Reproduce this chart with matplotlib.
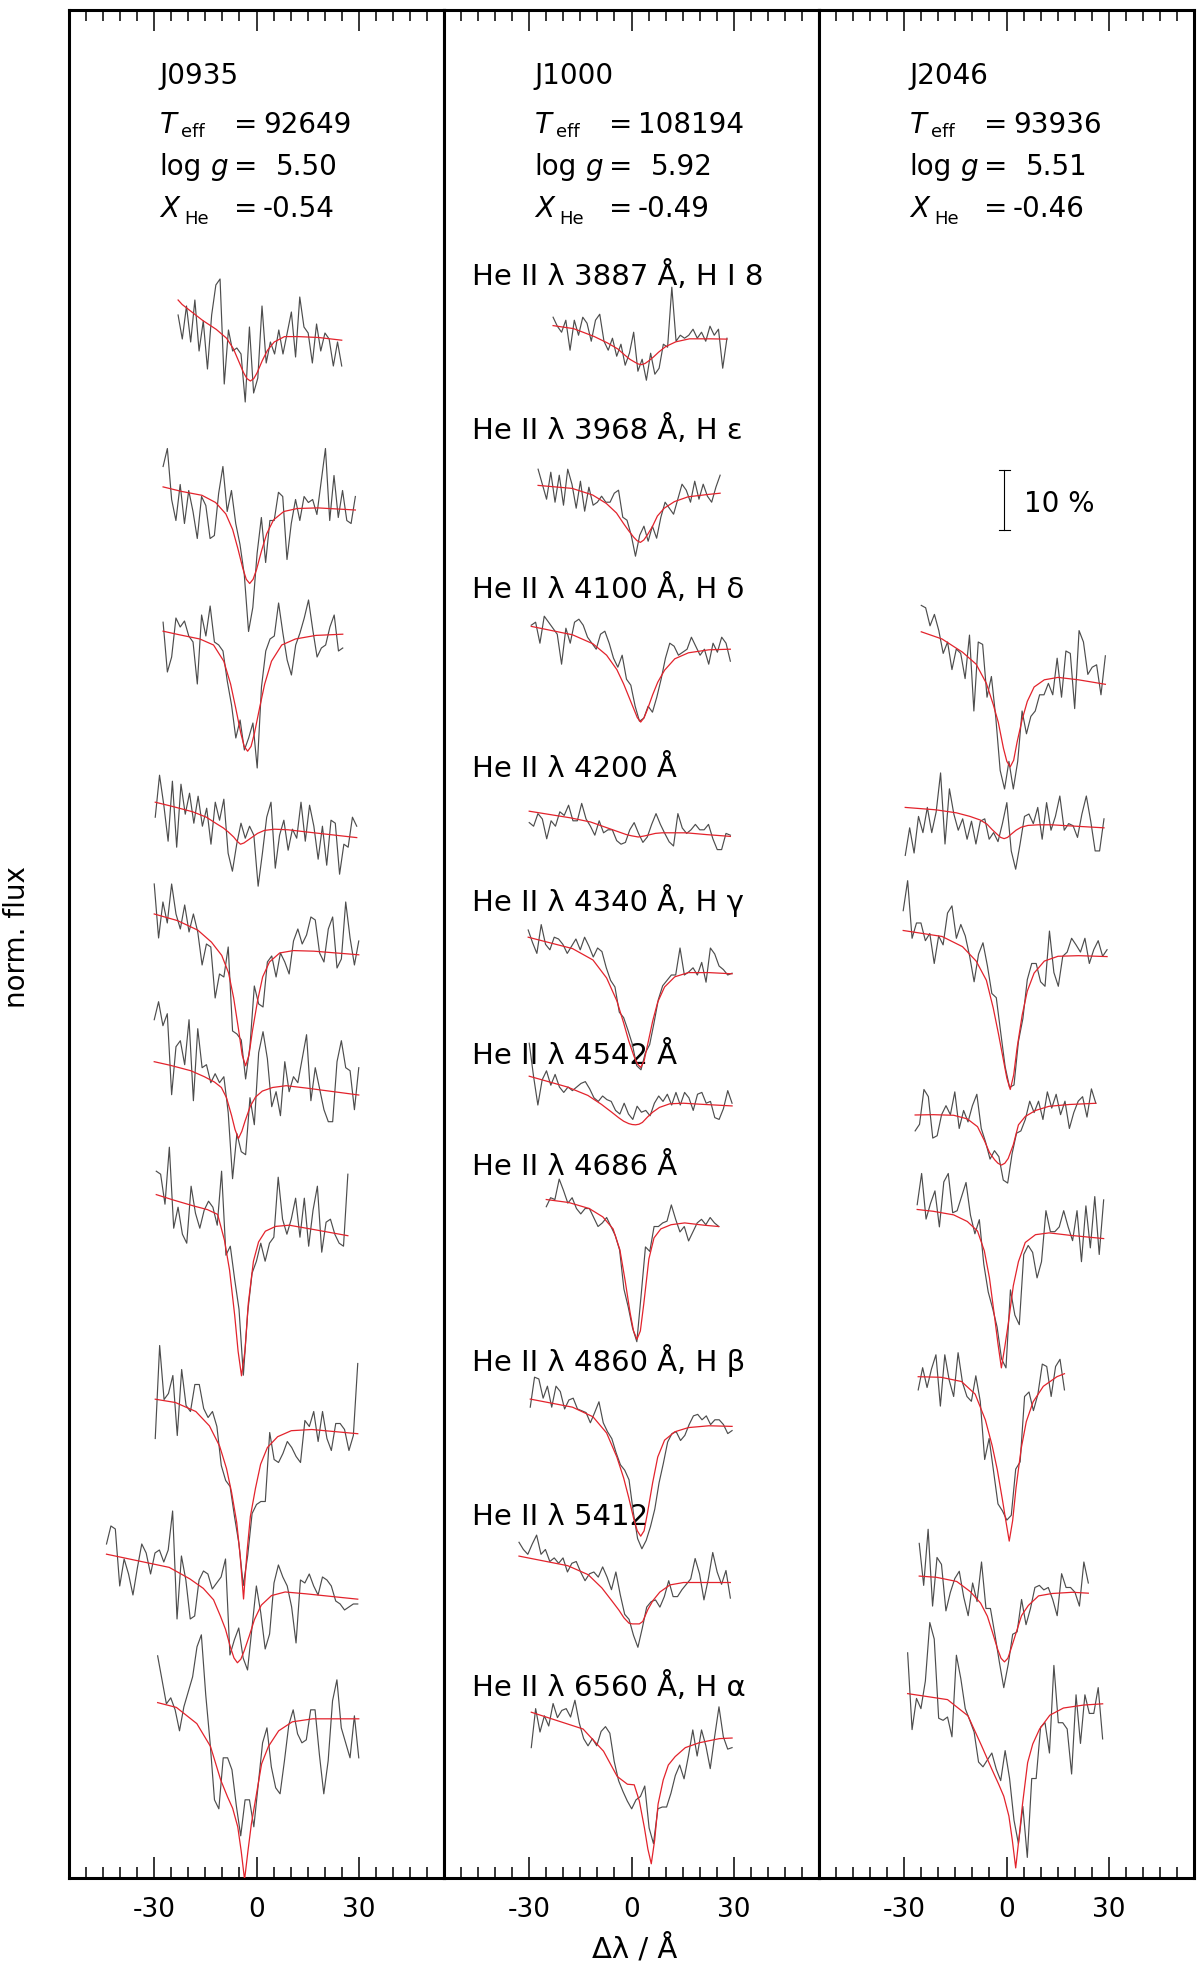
import numpy as np
import matplotlib
matplotlib.use("Agg")
import matplotlib.pyplot as plt
from matplotlib.ticker import FixedLocator, MultipleLocator
import matplotlib.transforms as mtransforms

plt.rcParams['font.family'] = ['DejaVu Sans']
plt.rcParams['axes.unicode_minus'] = False

# ---------------- chart text ----------------
stars = ["J0935", "J1000", "J2046"]
teff_vals = ["92649", "108194", "93936"]
logg_vals = ["5.50", "5.92", "5.51"]
xhe_vals = ["-0.54", "-0.49", "-0.46"]
x_tick_values = [-30, 0, 30]
x_tick_labels = ["-30", "0", "30"]
line_labels = ["He II \u03bb 3887 \u00c5, H I 8", "He II \u03bb 3968 \u00c5, H \u03b5",
               "He II \u03bb 4100 \u00c5, H \u03b4", "He II \u03bb 4200 \u00c5",
               "He II \u03bb 4340 \u00c5, H \u03b3", "He II \u03bb 4542 \u00c5",
               "He II \u03bb 4686 \u00c5", "He II \u03bb 4860 \u00c5, H \u03b2",
               "He II \u03bb 5412", "He II \u03bb 6560 \u00c5, H \u03b1"]
label_baselines = [2.6547, 2.399, 2.134, 1.8357, 1.6123, 1.3573, 1.1723, 0.8457, 0.589, 0.304]

# knot offsets (Angstrom, relative to line centre) for the model curves
REL = [-20, -14, -10, -7, -5, -3.5, -2, -1, 0, 1, 2, 3.5, 5, 7, 10, 14, 20]

# ---------------- J0935 ----------------
j0935_lines = ["3887", "3968", "4100", "4200", "4340", "4542", "4686", "4860", "5412", "6560"]
j0935_level = [2.575, 2.2875, 2.075, 1.748, 1.5467, 1.3205, 1.088, 0.7475, 0.4767, 0.2653]
j0935_center = [-1.8, -2.0, -2.6, -4.7, -3.2, -5.3, -4.4, -3.8, -5.6, -3.5]
j0935_start = [-23, -27.4, -27.4, -29.7, -30, -30, -29.4, -29.7, -44, -29]
j0935_end = [25, 29, 25.3, 29.4, 30, 30, 26.8, 29.7, 29.7, 30]

obs_j0935_3887 = [3.0, -1.0, 4.5, -1.5, 5.5, -3.0, 2.0, -6.0, 3.0, 8.0, 9.0, -8.5, 0.5, -3.0, -2.5, -3.5, -11.5, 1.0, -10.0, -7.5, 4.5, -5.0, -1.5, -3.5, 0.5, -3.5, 0.0, 3.5, -4.0, 6.0, 1.0, 0.0, -5.0, 1.5, -3.0, 0.0, -1.0, -5.5, -1.5, -5.5]
obs_j0935_3968 = [6.5, 9.5, 1.0, -2.5, 3.5, -3.0, 2.5, -1.0, -5.5, 1.5, 0.0, -5.5, -5.0, 2.0, 6.5, -1.0, 2.5, -3.0, -6.5, -11.5, -21.0, -17.0, -8.0, -2.0, -9.5, -2.5, -2.5, 2.2, 1.5, -9.0, -3.0, 1.0, -2.5, 1.5, 0.5, 1.0, -1.5, 4.0, 9.5, -2.5, 5.0, -2.0, 2.5, -2.5, -3.0, 1.5]
obs_j0935_4100 = [1.8, -6.5, -4.0, 2.5, 1.0, 2.0, -0.5, -1.5, -8.5, 3.0, -0.5, 4.5, -1.5, -2.0, -3.0, -8.0, -12.0, -17.5, -14.5, -19.5, -17.5, -15.0, -22.5, -9.0, -3.0, -1.0, -0.5, 5.0, 0.0, -4.5, -7.0, -2.0, 0.0, 2.5, 5.5, 0.5, -4.0, -2.5, -2.0, 1.0, 3.0, -3.0, -2.5]
obs_j0935_4200 = [2.0, 9.0, 4.0, -2.0, 8.0, -3.0, 7.5, 2.5, 6.0, 1.0, 5.5, 0.5, 3.5, -2.5, 4.5, 1.5, 5.0, -4.0, -7.0, -2.5, 1.0, -1.5, 0.5, -1.0, -9.5, -4.0, 2.0, 4.5, -6.5, -1.0, 1.5, -3.5, 0.0, -1.5, 4.5, -2.0, 4.0, 0.5, -5.0, 0.5, -6.0, 1.5, 1.0, -7.5, -2.5, -3.0, 2.0, 0.5]
obs_j0935_4340 = [11.0, 2.0, 8.0, 4.5, 11.0, 6.0, 3.5, 7.5, 3.0, 6.0, 3.0, -2.5, 1.0, 0.5, -8.0, -4.0, -4.5, 0.5, -13.5, -14.0, -15.0, -21.5, -16.0, -6.0, -9.0, -9.5, -2.0, -1.0, -4.5, -0.5, -2.0, -4.0, 1.5, 3.5, 1.0, 2.5, 5.5, 5.0, -0.5, -2.0, 3.5, 5.5, -3.0, -1.5, 8.0, 2.0, -2.5, 1.5]
obs_j0935_4542 = [11.0, 14.0, 10.0, 12.0, -1.5, 6.5, 7.5, 3.5, 11.0, -2.5, 9.5, 3.0, 3.5, 0.5, 2.0, 0.5, 1.5, -4.5, -15.5, -8.0, -11.0, -11.5, -2.0, -6.5, 5.5, 9.0, 4.5, -3.5, -1.0, -5.0, 4.0, -1.0, 1.5, 0.5, 4.5, 8.5, -2.5, 3.0, -0.5, -4.0, -6.0, -6.0, 4.0, 7.5, 3.0, 2.5, -4.0, 3.0]
obs_j0935_4686 = [9.0, 8.5, 3.5, 13.0, -0.5, 3.0, -1.5, -3.0, 6.5, 2.0, -0.5, 2.5, 4.0, 3.0, 0.0, 9.0, -5.0, -3.5, -9.0, -14.0, -25.0, -14.5, -8.0, -6.0, -3.0, -6.0, -3.0, -2.0, 8.0, 1.0, -1.5, 1.0, 4.5, -2.0, 4.5, -3.5, 2.5, 6.5, -4.5, 0.5, 1.0, -1.5, -3.0, -3.5, 8.5]
obs_j0935_4860 = [-1.5, 14.0, 5.0, 6.0, 9.0, -1.0, 10.0, 4.0, 3.0, 7.5, 7.5, 3.5, 2.0, 3.0, 0.5, -6.0, -8.5, -9.5, -14.5, -19.0, -26.0, -21.0, -14.0, -12.5, -12.0, -12.0, -0.5, -5.0, -5.5, -4.0, -2.0, -3.0, -4.5, -5.5, 1.5, 0.5, 3.0, -2.0, 3.0, -1.5, -3.5, 1.0, 1.0, 0.0, -3.5, -1.0, 11.0]
obs_j0935_5412 = [8.0, 11.0, 10.5, 1.0, 5.5, 3.0, -0.5, 4.0, 8.0, 6.5, 3.0, 6.5, 7.0, 5.0, 7.0, 13.5, -4.5, 6.0, 2.0, -4.5, -4.0, 2.0, 3.5, 3.0, 0.5, 1.5, 2.5, 5.5, -10.5, -8.0, -6.0, -11.0, -13.0, -6.0, 1.0, -3.5, -9.5, -7.0, 1.5, 4.5, 2.5, 1.0, -2.5, -8.5, 2.0, 1.5, 3.0, 1.0, -0.5, 2.5, 2.0, 1.0, -1.5, -2.0, -3.0, -2.5, -2.0, -2.0]
obs_j0935_6560 = [10.5, 6.5, 2.5, 3.5, 1.5, -2.0, 2.0, 4.5, 7.0, 12.0, 14.0, 4.0, -4.0, -13.5, -15.0, -6.5, -6.5, -8.5, -14.5, -19.5, -13.5, -13.5, -18.0, -11.0, -4.0, -1.5, -8.0, -11.5, -12.5, -7.0, -1.0, 1.5, -2.5, -4.0, -3.5, 1.5, 1.5, -6.0, -12.5, -7.0, 3.0, 6.5, -1.5, -4.0, -6.5, 0.5, -6.5]

fit_j0935_3887 = [5.5, 4.75, 2.1, 0.6, -0.86, -2.6, -4.6, -6.6, -7.6, -8.0, -7.6, -6.6, -4.6, -2.9, -1.5, -0.6, -0.6, -0.75, -1.2]
fit_j0935_3968 = [3.1, 2.35, 1.7, 0.5, -1.4, -4.0, -7.1, -10.5, -12.3, -13.0, -12.3, -10.7, -7.5, -4.7, -2.4, -1.0, -0.5, -0.4, -0.75]
fit_j0935_4100 = [0.3, -0.3, -1.0, -2.0, -4.7, -8.5, -12.5, -16.7, -18.9, -19.7, -18.9, -16.7, -12.5, -8.5, -4.7, -2.0, -1.0, -0.4, -0.2]
fit_j0935_4200 = [4.5, 3.8, 2.9, 2.0, 0.9, 0.2, -0.5, -1.3, -2.0, -2.5, -2.3, -1.9, -1.3, -0.7, -0.2, 0.0, -0.1, -0.5, -1.4]
fit_j0935_4340 = [6.0, 4.9, 3.3, 1.3, -0.9, -3.8, -8.0, -13.5, -17.5, -19.3, -17.5, -13.5, -8.5, -4.5, -2.0, -0.5, -0.1, -0.2, -0.8]
fit_j0935_4542 = [4.0, 3.4, 2.5, 1.5, 0.6, -0.3, -2.0, -5.0, -7.3, -8.8, -7.6, -5.8, -3.4, -1.9, -0.9, -0.3, 0.0, -0.4, -1.55]
fit_j0935_4686 = [5.1, 4.2, 3.2, 2.6, 1.8, -2.5, -7.5, -15.0, -21.0, -25.1, -21.0, -13.0, -6.0, -2.8, -1.0, -0.2, 0.0, -0.6, -1.75]
fit_j0935_4860 = [5.05, 4.5, 3.0, 0.6, -2.8, -6.5, -10.5, -15.5, -21.0, -28.25, -20.5, -14.5, -9.8, -5.8, -3.0, -1.2, -0.2, 0.0, -0.7]
fit_j0935_5412 = [6.3, 4.1, 2.2, 0.6, -1.3, -4.0, -6.2, -9.3, -11.0, -11.8, -11.2, -9.8, -7.3, -4.6, -2.2, -0.6, 0.0, -0.3, -1.2]
fit_j0935_6560 = [2.7, 1.9, -0.8, -4.6, -10.2, -13.0, -14.9, -18.0, -22.0, -26.8, -22.0, -17.5, -12.5, -7.5, -4.6, -2.0, -0.5, 0.0, 0.0]

# ---------------- J1000 ----------------
j1000_lines = ["3887", "3968", "4100", "4200", "4340", "4542", "4686", "4860", "5412", "6560"]
j1000_level = [2.5663, 2.308, 2.048, 1.742, 1.51, 1.2913, 1.0918, 0.7537, 0.4925, 0.2333]
j1000_center = [3.0, 2.6, 2.7, 2.0, 2.7, 1.2, 1.6, 2.7, 1.3, 5.8]
j1000_start = [-23, -27.4, -29.4, -30, -30.3, -30, -25, -29.7, -33, -29.4]
j1000_end = [28, 26, 29, 29, 29.5, 29.5, 25.6, 29.5, 29, 29.5]

obs_j1000_3887 = [3.5, 2.0, 1.0, 3.0, -2.0, 3.0, 0.5, 3.5, 2.5, -0.5, 3.0, 4.0, -0.5, -2.0, 0.0, -3.0, -1.0, -4.5, -2.5, 1.0, -5.5, -3.5, -7.0, -2.5, -6.0, -5.0, -1.0, -1.5, 8.5, -0.5, 0.5, 0.0, 0.5, 1.5, 0.0, 1.0, -0.5, 2.0, 0.5, 1.5, -5.0, 0.0]
obs_j1000_3968 = [4.0, 1.5, -1.0, 3.5, -1.5, 3.0, -2.0, 4.0, 1.5, -2.5, 2.0, -3.0, 1.0, -2.0, -1.5, -0.5, -1.5, -1.5, 0.0, 0.5, -4.0, -4.5, -7.0, -10.5, -7.0, -5.5, -8.0, -5.5, -7.5, -4.0, -1.5, -2.5, -3.5, -1.0, 1.5, 0.5, -1.5, 2.0, -1.0, 1.5, -0.5, -1.5, 1.0, 3.0]
obs_j1000_4100 = [4.0, 4.5, 1.0, 5.5, 4.5, 3.5, 2.5, -2.5, 3.5, 1.0, 4.5, 5.0, 4.0, 2.0, 1.0, 0.0, 2.5, 3.0, 1.0, -1.5, -3.0, -1.0, -5.0, -6.0, -9.5, -12.0, -11.5, -9.5, -10.5, -8.0, -5.0, -1.5, 1.0, 0.5, -1.0, -0.5, 0.0, 2.0, 0.5, -1.0, 0.0, -2.5, 1.0, -0.5, 2.0, 1.0, -2.0]
obs_j1000_4200 = [1.7, 1.1, 3.2, 2.3, -1.0, 2.0, 1.1, 3.5, 2.9, 4.6, 2.0, 2.0, 4.9, 2.3, 1.1, -0.4, 2.0, 0.0, 0.5, 0.5, -1.3, -1.9, -1.6, 0.5, 1.7, -0.1, -1.6, -0.7, 1.4, 3.2, 1.4, -0.1, -1.5, -2.2, 3.2, 0.8, -0.1, 0.5, 1.4, 0.5, 0.5, 1.4, -1.0, -2.8, -2.8, -0.1, -0.4]
obs_j1000_4340 = [7.0, 4.9, 3.1, 7.9, 4.6, 3.7, 5.8, 5.5, 4.6, 3.1, 4.3, 5.5, 3.7, 5.8, 4.3, 2.5, 4.0, 3.4, 0.7, -1.4, -2.5, -6.7, -7.6, -9.7, -12.0, -15.6, -16.3, -13.5, -12.1, -8.5, -4.6, -2.3, -1.4, -0.5, -0.5, 4.0, -0.5, 0.0, 0.7, -0.5, 1.6, -1.7, 4.0, 3.0, 1.0, 0.4, -0.5, -0.2]
obs_j1000_4542 = [10.0, 4.5, -0.3, 3.9, 5.4, 3.0, 4.8, 2.7, 1.8, 2.7, 2.1, 2.7, 3.3, 3.6, 2.4, 0.9, 0.3, 1.2, 0.6, 0.3, -1.2, -1.8, 0.0, -1.8, -2.7, -0.5, -1.5, -1.2, -2.1, 0.0, 1.2, 0.3, 1.5, -0.3, 1.8, -0.3, 1.8, 0.9, -1.2, 1.5, 1.8, 0.0, 0.3, -2.4, -2.7, -0.9, 2.1, 0.0]
obs_j1000_4686 = [2.7, 4.2, 3.9, 7.3, 5.4, 3.3, 4.2, 2.4, 1.5, 2.4, 2.4, 0.9, -0.6, 0.0, 0.9, -0.6, -2.1, -4.5, -11.0, -14.0, -17.5, -19.8, -12.0, -4.0, -4.75, -0.6, -0.6, 0.0, 0.3, 3.0, 0.6, -1.5, -0.6, -3.0, -1.5, 0.0, 0.6, -0.3, 0.9, 0.0, -0.6]
obs_j1000_4860 = [3.1, 8.1, 7.8, 4.6, 6.6, 3.1, 6.6, 5.7, 2.8, 4.3, 4.6, 2.8, 2.5, 2.2, 0.5, 2.2, 4.0, 0.5, -1.0, -2.15, -4.5, -6.5, -7.4, -9.0, -14.4, -18.8, -20.5, -19.1, -16.8, -13.9, -9.5, -6.25, -2.7, -1.3, -1.0, -2.45, -1.6, 0.2, 1.65, 1.9, 1.0, 1.65, 0.2, 1.0, 1.0, 0.2, -1.3, -0.8]
obs_j1000_5412 = [6.7, 5.5, 4.7, 6.4, 7.9, 4.7, 5.5, 3.5, 4.1, 3.2, 4.1, 1.75, 3.2, 3.5, 1.75, 0.3, 1.45, 1.75, 0.9, 2.6, 0.9, -1.2, 1.75, -2.05, -5.3, -6.15, -8.8, -10.8, -7.6, -4.1, -3.2, -2.9, -4.1, -2.35, 0.3, -2.35, -2.35, -1.2, -0.3, 0.6, 4.0, 1.45, -2.9, 0.6, 5.0, 1.75, -0.3, 2.0, -2.6]
obs_j1000_6560 = [-1.6, 4.9, 1.0, 3.7, 2.0, 5.75, 3.4, 4.6, 4.9, 3.5, 6.3, 2.5, -0.1, -1.3, -0.1, -1.3, 1.1, 1.9, 0.8, -3.9, -7.1, -8.9, -10.5, -11.8, -10.3, -9.75, -8.0, -15.0, -17.6, -11.8, -11.5, -11.5, -9.2, -6.25, -4.5, -6.8, -3.0, 1.35, -3.0, 1.35, -1.3, -5.1, 0.2, 5.2, 0.2, -1.85, -1.6]

fit_j1000_3887 = [2.1, 1.6, 0.3, -0.8, -1.8, -2.8, -3.5, -4.0, -4.3, -4.4, -4.2, -3.8, -3.1, -2.3, -1.4, -0.6, -0.1, -0.1, -0.15]
fit_j1000_3968 = [1.3, 0.8, -0.3, -1.7, -3.3, -5.0, -6.2, -7.3, -7.9, -8.2, -7.8, -7.0, -5.6, -3.8, -2.5, -1.4, -0.6, -0.2, 0.0]
fit_j1000_4100 = [3.8, 2.4, 0.9, -1.0, -3.4, -5.8, -7.9, -10.0, -11.4, -12.15, -11.4, -10.0, -7.6, -5.5, -3.5, -1.6, -0.6, -0.1, 0.0]
fit_j1000_4200 = [3.6, 2.5, 1.8, 1.0, 0.4, 0.0, -0.3, -0.5, -0.6, -0.7, -0.6, -0.5, -0.3, -0.1, 0.0, 0.0, 0.0, -0.3, -0.6]
fit_j1000_4340 = [5.8, 3.9, 2.0, -1.0, -4.8, -8.5, -11.5, -14.0, -15.3, -15.9, -14.8, -12.2, -8.2, -5.0, -2.5, -0.8, -0.1, -0.1, -0.3]
fit_j1000_4542 = [4.5, 2.7, 1.3, -0.2, -1.5, -2.4, -3.0, -3.4, -3.55, -3.6, -3.5, -3.2, -2.3, -1.5, -0.7, -0.1, 0.0, -0.2, -0.45]
fit_j1000_4686 = [3.9, 3.4, 2.4, 1.0, -1.0, -4.5, -9.5, -15.0, -18.0, -19.4, -18.0, -13.5, -6.0, -2.5, -1.0, -0.3, 0.0, -0.4, -0.6]
fit_j1000_4860 = [4.45, 3.1, 1.5, -1.2, -5.2, -8.7, -12.0, -15.6, -17.5, -18.4, -17.5, -14.5, -9.5, -5.2, -2.4, -1.0, -0.3, 0.0, -0.1]
fit_j1000_5412 = [4.4, 2.8, 1.3, -0.9, -3.1, -4.6, -5.9, -6.8, -6.9, -6.9, -6.9, -6.5, -4.5, -3.0, -1.6, -0.4, 0.0, 0.0, 0.0]
fit_j1000_6560 = [4.3, 1.5, -2.2, -6.4, -7.7, -7.8, -10.5, -15.0, -18.5, -20.96, -17.0, -11.0, -7.0, -4.5, -3.1, -1.6, -0.8, -0.1, 0.0]

# ---------------- J2046 ----------------
j2046_lines = ["4100", "4200", "4340", "4542", "4686", "4860", "5412", "6560"]
j2046_level = [2.001, 1.7553, 1.5382, 1.2872, 1.0752, 0.8355, 0.4762, 0.2883]
j2046_center = [1.1, -0.7, 1.1, -1.5, -1.5, 0.8, -0.6, 2.7]
j2046_start = [-25, -29.7, -30.3, -26.8, -26.2, -25.9, -25.6, -29]
j2046_end = [29, 28.6, 29.5, 26.2, 28.5, 17, 24, 28.2]

obs_j2046_4100 = [12.0, 11.6, 8.6, 10.5, 7.8, 4.0, 5.9, 1.3, 4.75, 4.0, -0.2, 7.05, -5.6, 5.9, 5.5, -3.3, 0.15, -6.7, -15.5, -18.6, -14.0, -18.6, -14.0, -5.6, -9.4, -6.5, -5.6, -2.9, -2.9, -1.0, -2.9, 3.2, -3.3, 4.4, 4.0, -5.2, 7.8, 5.9, 0.5, 1.7, 2.1, -2.9, 3.6]
obs_j2046_4200 = [-5.1, -0.5, -4.7, 1.4, -1.3, 2.9, -1.3, 2.15, 8.65, -3.2, 6.0, 1.8, -0.9, 1.0, -2.4, 0.6, -3.2, 0.6, 1.0, -2.4, -1.3, -2.8, 0.2, 3.7, -4.35, -7.4, -3.2, 1.4, 1.8, 0.2, 2.9, -2.4, 3.7, -0.9, 1.4, 4.8, -0.9, 0.2, -0.15, -2.1, 1.8, 4.8, 0.6, -4.35, -4.35, 1.0]
obs_j2046_4340 = [7.4, 12.4, 2.8, 5.35, 5.35, 2.4, 3.6, -1.4, 3.2, 1.7, 7.0, 8.2, 2.8, 5.1, 3.2, -0.2, -4.45, 0.15, 2.05, -1.8, -6.4, -7.1, -12.9, -18.6, -22.05, -21.65, -14.4, -10.6, -4.1, -1.4, -1.4, -4.45, -5.2, 4.0, -2.9, -5.2, -0.2, 0.5, 2.8, 1.7, 0.5, 2.8, -1.4, 0.9, 2.4, -0.2, 0.9]
obs_j2046_4542 = [-4.2, -3.1, 2.7, 1.5, -5.4, -5.0, -1.5, 0.0, -1.5, 2.3, -3.8, -0.8, -2.7, 0.0, 1.9, -3.8, -6.1, -8.9, -7.5, -8.5, -12.4, -12.9, -8.0, -4.6, -4.2, -2.3, 0.75, -1.15, 0.75, -2.3, 2.3, -0.4, 1.9, -1.5, 0.75, -3.8, -1.15, 0.75, 1.5, -1.9, 2.8, 0.4]
obs_j2046_4686 = [4.7, 9.9, 2.3, 4.9, 7.0, 1.0, 8.5, 9.9, 3.35, 3.7, 6.05, 8.4, 2.95, -0.15, 2.2, -5.2, -9.85, -12.6, -15.7, -21.0, -22.5, -9.5, -13.7, -15.3, -3.6, -2.1, -3.25, -7.5, -4.8, 3.7, 0.2, 0.2, 1.0, 3.7, 1.0, -1.3, 3.7, -4.8, 4.5, -2.5, 6.05, -3.6, 5.5]
obs_j2046_4860 = [-2.2, 1.5, -1.8, 1.3, 3.65, -4.9, 3.65, -0.6, -3.3, 4.0, -1.0, -3.3, -4.1, 0.15, -4.1, -13.8, -10.3, -15.75, -21.2, -22.35, -23.9, -23.1, -15.4, -14.2, -3.3, -2.55, -5.65, -2.95, 2.1, 1.7, -3.3, 1.7, 2.9, -2.2]
obs_j2046_5412 = [8.15, 1.15, 10.5, -2.3, 5.8, 4.65, -3.1, 0.0, 2.3, 3.5, -0.8, -3.9, 1.55, -1.55, 5.05, -2.7, -2.7, -7.0, -11.6, -15.9, -12.0, -7.0, -6.6, -1.2, -5.4, -2.7, 0.8, 1.15, 0.4, 0.8, -1.2, -3.9, 3.1, 0.8, 0.8, 0.0, -2.3, 5.05, 1.55]
obs_j2046_6560 = [8.7, -4.1, 1.1, -0.6, 4.0, 13.75, 11.0, -2.2, -2.55, -2.0, -5.3, 8.3, 4.4, -0.6, -2.5, -4.5, -9.5, -10.3, -9.15, -8.0, -10.7, -12.6, -7.6, -12.25, -19.2, -23.1, -16.9, -25.4, -12.25, -12.25, -3.7, -2.95, -8.0, 6.6, -2.95, -2.95, -4.0, -11.5, 1.7, -6.4, 1.7, -1.4, -1.4, 2.9, -5.65]

fit_j2046_4100 = [7.6, 6.4, 4.2, 2.2, -1.0, -4.5, -7.5, -11.8, -14.0, -14.9, -13.8, -10.8, -7.0, -4.0, -1.6, -0.4, 0.0, -0.4, -1.15]
fit_j2046_4200 = [2.9, 2.5, 2.0, 1.4, 0.8, 0.1, -0.8, -1.6, -2.1, -2.3, -2.1, -1.6, -0.9, -0.4, -0.1, 0.0, 0.0, -0.2, -0.5]
fit_j2046_4340 = [4.1, 3.1, 1.4, -1.0, -4.2, -8.8, -13.0, -17.5, -20.5, -22.4, -20.0, -15.5, -10.0, -6.0, -3.0, -1.0, -0.2, -0.1, -0.25]
fit_j2046_4542 = [-1.55, -1.5, -1.6, -2.2, -3.5, -5.8, -7.8, -9.0, -9.6, -9.9, -9.6, -8.8, -6.5, -3.2, -1.8, -0.8, -0.1, 0.2, 0.4]
fit_j2046_4686 = [3.9, 3.6, 3.0, 1.9, 0.3, -3.0, -7.5, -14.0, -18.5, -22.5, -19.0, -15.2, -8.8, -4.8, -1.6, -0.3, 0.0, -0.4, -0.95]
fit_j2046_4860 = [0.0, -0.1, -0.8, -2.9, -7.2, -11.5, -15.5, -20.5, -24.0, -27.4, -24.0, -18.5, -12.0, -7.5, -4.2, -1.6, 0.0, 0.5, 0.5]
fit_j2046_5412 = [2.7, 2.5, 1.8, 0.1, -1.8, -4.0, -6.7, -9.5, -11.0, -11.6, -11.0, -9.3, -6.6, -3.9, -2.2, -0.6, -0.2, 0.0, -0.15]
fit_j2046_6560 = [1.9, 0.9, -1.8, -6.8, -10.7, -13.2, -15.2, -18.5, -22.5, -27.15, -22.0, -16.5, -9.6, -6.5, -4.0, -1.7, -0.5, 0.0, 0.2]

scale_bar_percent = 10

# ---------------- assemble ----------------
g = globals()
panels = []
for star, key in zip(stars, ["j0935", "j1000", "j2046"]):
    names = g[key + "_lines"]
    panels.append(dict(
        level=g[key + "_level"], center=g[key + "_center"],
        start=g[key + "_start"], end=g[key + "_end"],
        obs=[g["obs_%s_%s" % (key, n)] for n in names],
        fit=[g["fit_%s_%s" % (key, n)] for n in names]))

W, H = 1200, 1961
fig = plt.figure(figsize=(W / 100, H / 100), dpi=100)
panel_left_px = [69, 444, 819]
ax_bottom_px, ax_top_px = 1878, 10
px_per_unit = 600.0
ymax = (ax_bottom_px - ax_top_px) / px_per_unit

DATA_COLOR = "#4d4d4d"
FIT_COLOR = "#e3232c"
fs_tick = 19
fs_head = 20

def ypx(y):
    return (ax_bottom_px - y) / px_per_unit

axes = []
for i, p in enumerate(panels):
    ax = fig.add_axes([panel_left_px[i] / W, (H - ax_bottom_px) / H, 375 / W,
                       (ax_bottom_px - ax_top_px) / H])
    axes.append(ax)
    ax.set_xlim(-55, 55)
    ax.set_ylim(0, ymax)
    for sp in ax.spines.values():
        sp.set_linewidth(2.2)
    ax.xaxis.set_major_locator(FixedLocator(x_tick_values))
    ax.xaxis.set_minor_locator(MultipleLocator(5))
    ax.set_xticklabels(x_tick_labels)
    ax.set_yticks([])
    ax.tick_params(axis='x', which='both', direction='in', top=True, bottom=True,
                   labeltop=False, width=1.1, labelsize=fs_tick, pad=13.5)
    ax.tick_params(axis='x', which='major', length=15)
    ax.tick_params(axis='x', which='minor', length=8)

    for lev, c, xs, xe, ob, ft in zip(p["level"], p["center"], p["start"], p["end"],
                                       p["obs"], p["fit"]):
        xo = np.linspace(xs, xe, len(ob))
        ax.plot(xo, lev + np.array(ob) / 100.0, color=DATA_COLOR, lw=0.85, zorder=2)
        kx = [xs] + [c + r for r in REL] + [xe]
        keep = [k for k, xv in enumerate(kx) if k in (0, len(kx) - 1) or xs < xv < xe]
        fx = np.array([kx[k] for k in keep])
        fy = lev + np.array([ft[k] for k in keep]) / 100.0
        ax.plot(fx, fy, color=FIT_COLOR, lw=0.9, zorder=3)

    # header
    tr = mtransforms.blended_transform_factory(ax.transAxes, ax.transData)
    fx0 = lambda px: (px - 69) / 375.0
    ax.text(fx0(159), ypx(84), stars[i], transform=tr, fontsize=fs_head, va='baseline', ha='left')
    ax.text(fx0(160), ypx(133), "T", transform=tr, fontsize=fs_head, style='italic', va='baseline')
    ax.text(fx0(181), ypx(137), "eff", transform=tr, fontsize=13, va='baseline')
    ax.text(fx0(234), ypx(133), "=", transform=tr, fontsize=fs_head, va='baseline')
    ax.text(fx0(263), ypx(133), teff_vals[i], transform=tr, fontsize=fs_head, va='baseline')
    ax.text(fx0(159), ypx(175), "log", transform=tr, fontsize=fs_head, va='baseline')
    ax.text(fx0(210), ypx(175), "g", transform=tr, fontsize=fs_head, style='italic', va='baseline')
    ax.text(fx0(234), ypx(175), "=", transform=tr, fontsize=fs_head, va='baseline')
    ax.text(fx0(276), ypx(175), logg_vals[i], transform=tr, fontsize=fs_head, va='baseline')
    ax.text(fx0(160), ypx(217), "X", transform=tr, fontsize=fs_head, style='italic', va='baseline')
    ax.text(fx0(184), ypx(224), "He", transform=tr, fontsize=13, va='baseline')
    ax.text(fx0(234), ypx(217), "=", transform=tr, fontsize=fs_head, va='baseline')
    ax.text(fx0(263), ypx(217), xhe_vals[i], transform=tr, fontsize=fs_head, va='baseline')

# line labels in the middle panel
ax2 = axes[1]
tr2 = mtransforms.blended_transform_factory(ax2.transAxes, ax2.transData)
for lab, yb in zip(line_labels, label_baselines):
    ax2.text(0.0755, yb, lab, transform=tr2, fontsize=21, va='baseline', ha='left', zorder=1)

# scale bar in the right panel
ax3 = axes[2]
xb = -0.6
ytop = ypx(470)
ybot = ytop - scale_bar_percent / 100.0
ax3.plot([xb, xb], [ybot, ytop], color='black', lw=0.8)
ax3.plot([xb - 1.5, xb + 1.5], [ytop, ytop], color='black', lw=0.8)
ax3.plot([xb - 1.5, xb + 1.5], [ybot, ybot], color='black', lw=0.8)
ax3.text(5.0, ypx(512), "%d %%" % scale_bar_percent, fontsize=20, va='baseline', ha='left')

fig.text(635 / W, (H - 1958) / H, "\u0394\u03bb / \u00c5", fontsize=21, ha='center', va='baseline')
fig.text(17 / W, (H - 937) / H, "norm. flux", fontsize=20, rotation=90, ha='center', va='center')

fig.savefig("out.png", dpi=100)
